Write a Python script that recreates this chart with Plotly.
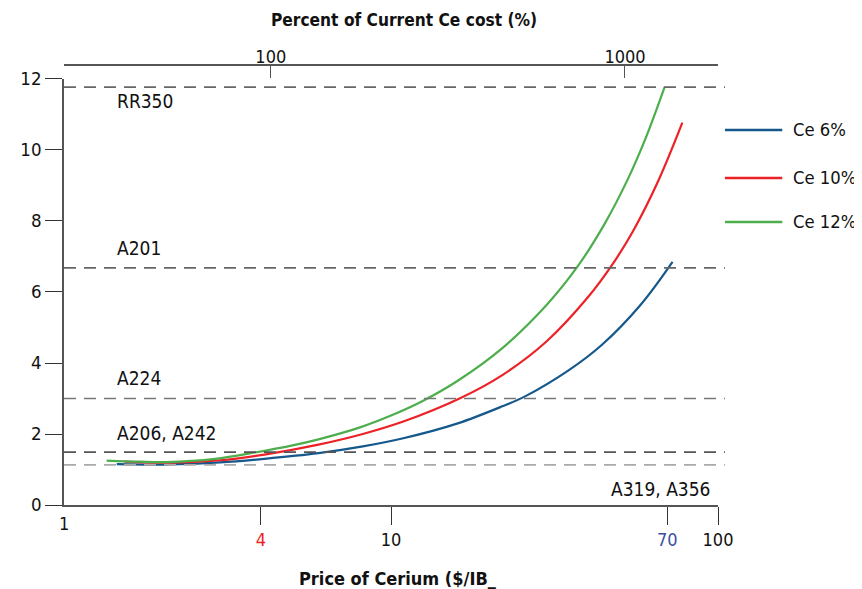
import math
import plotly.graph_objects as go

FONT = "DejaVu Sans Condensed, Roboto, sans-serif"

# ---- data ----
series_names = ["Ce 6%", "Ce 10%", "Ce 12%"]
series_colors = ["#15588c", "#ec2227", "#4cae4c"]

ce6_price = [1.45, 2.05, 3.0, 4.1, 6.0, 8.2, 10.9, 16.0, 21.9, 25.7, 35.0, 44.0, 58.1, 72.6]
ce6_cost = [1.15, 1.14, 1.2, 1.3, 1.46, 1.65, 1.88, 2.3, 2.78, 3.06, 3.8, 4.5, 5.65, 6.85]

ce10_price = [1.53, 2.05, 3.0, 4.1, 6.0, 8.2, 10.9, 16.2, 21.9, 30.0, 40.0, 47.1, 55.0, 65.8, 77.8]
ce10_cost = [1.22, 1.19, 1.26, 1.42, 1.7, 2.0, 2.35, 3.0, 3.66, 4.62, 5.85, 6.72, 7.72, 9.15, 10.77]

ce12_price = [1.35, 1.7, 2.05, 2.9, 3.84, 5.0, 6.0, 8.0, 10.0, 12.5, 16.0, 21.9, 30.0, 37.4, 45.0, 53.0, 60.0, 68.7]
ce12_cost = [1.25, 1.22, 1.21, 1.3, 1.48, 1.68, 1.85, 2.18, 2.52, 2.93, 3.5, 4.42, 5.65, 6.75, 7.92, 9.18, 10.32, 11.78]

ref_names = ["RR350", "A201", "A224", "A206, A242", "A319, A356"]
ref_values = [11.77, 6.68, 3.0, 1.49, 1.13]
ref_colors = ["#666666", "#666666", "#777777", "#555555", "#aaaaaa"]

x_tickvals = [4, 10, 70, 100]
x_ticktext = ['<span style="color:#ec2227">4</span>', "10",
              '<span style="color:#3b4f9f">70</span>', "100"]
y_tickvals = [0, 2, 4, 6, 8, 10, 12]
top_tickvals = [100, 1000, 1830]
top_ticktext = ["100", "1000", ""]

fig = go.Figure()
for name, color, xs, ys in zip(series_names, series_colors,
                               [ce6_price, ce10_price, ce12_price],
                               [ce6_cost, ce10_cost, ce12_cost]):
    fig.add_trace(go.Scatter(x=xs, y=ys, mode="lines", name=name,
                             line=dict(color=color, width=2.2, shape="spline"),
                             showlegend=False))

# invisible trace for top axis
fig.add_trace(go.Scatter(x=[100, 1000], y=[None, None], xaxis="x2", yaxis="y",
                         mode="markers", showlegend=False, hoverinfo="skip"))

shapes = []
annotations = []
for name, val, col in zip(ref_names, ref_values, ref_colors):
    shapes.append(dict(type="line", xref="paper", yref="y", x0=0, x1=1.0106,
                       y0=val, y1=val, line=dict(color=col, width=1.6, dash="12px,8px")))

label_pos = {"RR350": (1.43, 11.38, "left"), "A201": (1.43, 7.24, "left"),
             "A224": (1.43, 3.58, "left"), "A206, A242": (1.43, 2.03, "left"),
             "A319, A356": (95.7, 0.45, "right")}
for name in ref_names:
    x, y, anc = label_pos[name]
    annotations.append(dict(x=math.log10(x), y=y, xref="x", yref="y", text=name,
                            showarrow=False, xanchor=anc, yanchor="middle",
                            font=dict(size=19, color="#111", family=FONT)))

# legend drawn manually
leg_y = [0.8523, 0.7432, 0.6432]
for name, color, ly in zip(series_names, series_colors, leg_y):
    shapes.append(dict(type="line", xref="paper", yref="paper", x0=1.0106, x1=1.0983,
                       y0=ly, y1=ly, line=dict(color=color, width=2.6)))
    annotations.append(dict(x=1.1120, y=ly, xref="paper", yref="paper", text=name,
                            showarrow=False, xanchor="left", yanchor="middle",
                            font=dict(size=18.3, color="#111", family=FONT)))

# "1" label at left of x axis
annotations.append(dict(x=0, y=-0.043, xref="paper", yref="paper", text="1",
                        showarrow=False, xanchor="center", yanchor="middle",
                        font=dict(size=18, color="#111", family=FONT)))
# axis titles
annotations.append(dict(x=0.52, y=1.0, xref="paper", yref="paper", yshift=45,
                        text="<b>Percent of Current Ce cost (%)</b>", showarrow=False,
                        xanchor="center", yanchor="middle",
                        font=dict(size=17.2, color="#111", family=FONT)))
annotations.append(dict(x=0.51, y=0, xref="paper", yref="paper", yshift=-73,
                        text="<b>Price of Cerium ($/IB_</b>", showarrow=False,
                        xanchor="center", yanchor="middle",
                        font=dict(size=18, color="#111", family=FONT)))

fig.update_layout(
    width=854, height=581,
    margin=dict(l=49, r=144, t=57, b=84),
    paper_bgcolor="white", plot_bgcolor="white",
    font=dict(family=FONT, size=18, color="#111"),
    xaxis=dict(type="log", range=[0, 2], tickvals=x_tickvals, ticktext=x_ticktext,
               ticks="outside", ticklen=18, tickcolor="#333", tickwidth=1.3,
               showline=True, linecolor="#555", linewidth=1.5, showgrid=False,
               zeroline=False, tickfont=dict(size=18, family=FONT, color="#111")),
    xaxis2=dict(type="log", range=[1.4162, 3.2626], overlaying="x", side="top",
                anchor="free", position=1.0, tickvals=top_tickvals, ticktext=top_ticktext,
                ticks="inside", ticklen=12, tickcolor="#555", tickwidth=1.3,
                ticklabelstandoff=-6,
                showline=True, linecolor="#555", linewidth=1.5, showgrid=False,
                zeroline=False, tickfont=dict(size=18, family=FONT, color="#111")),
    yaxis=dict(range=[0, 12], domain=[0, 0.9682], tickvals=y_tickvals,
               ticks="outside", ticklen=17, tickcolor="#333", tickwidth=1.3,
               showline=True, linecolor="#555", linewidth=1.5, showgrid=False,
               zeroline=False, tickfont=dict(size=18.5, family=FONT, color="#111")),
    shapes=shapes, annotations=annotations, showlegend=False,
)

fig.write_html("out.html")
